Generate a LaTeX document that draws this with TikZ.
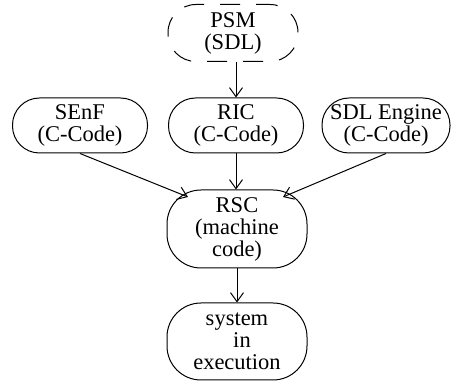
\documentclass[tikz,border=0pt]{standalone}
\usepackage{fontspec}
\setmainfont{Liberation Serif}
\usetikzlibrary{arrows.meta}
\tikzset{
  stage/.style={rectangle, draw, line width=1pt, align=center, inner sep=0pt,
    font=\fontsize{22.5}{22}\selectfont},
  srcbox/.style={stage, rounded corners=27pt, minimum width=135pt, minimum height=55pt},
  bigbox/.style={stage, rounded corners=34pt, minimum width=140pt, minimum height=78pt},
  dashedbox/.style={stage, rounded corners=28pt, minimum width=130pt, minimum height=57pt,
    dash pattern=on 20pt off 16pt, dash phase=6pt},
  flow/.style={line width=1pt, -{Straight Barb[length=9pt,width=13pt]}}
}
\begin{document}
\begin{tikzpicture}[x=1pt,y=-1pt]
  \useasboundingbox (0,0) rectangle (451,382);
  \node[dashedbox] (psm) at (233,33) {PSM\\(SDL)};
  \node[srcbox] (senf) at (80,125.5) {SEnF\\(C-Code)};
  \node[srcbox] (ric) at (236,125.5) {RIC\\(C-Code)};
  \node[srcbox, minimum width=128pt] (eng) at (386,125.5) {SDL Engine\\(C-Code)};
  \node[bigbox] (rsc) at (237,229) {RSC\\(machine\hspace*{10pt}\\code)};
  \node[bigbox, minimum height=77pt] (sys) at (237,341.5) {system\\\hspace*{10pt}in\\execution};
  % entry points on the rounded shoulders of the RSC box
  \coordinate (rscleft) at (188,197);
  \coordinate (rscright) at (283,197);
  \draw[flow] (psm.south -| ric.north) -- (ric.north);
  \draw[flow] (ric.south) -- (ric.south |- rsc.north);
  \draw[flow] (senf.south) -- (rscleft);
  \draw[flow] (eng.south) -- (rscright);
  \draw[flow] (rsc.south) -- (sys.north);
\end{tikzpicture}
\end{document}
